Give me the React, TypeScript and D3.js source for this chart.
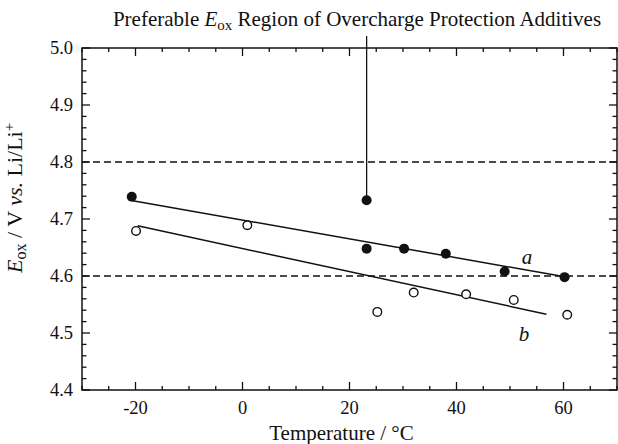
import React from "react";
import * as d3 from "d3";

const tempsA = [-20.7, 23.2, 23.2, 30.2, 38.0, 49.0, 60.2];
const valuesA = [4.739, 4.733, 4.648, 4.648, 4.639, 4.608, 4.598];
const tempsB = [-19.9, 0.9, 25.2, 32.0, 41.8, 50.7, 60.7];
const valuesB = [4.679, 4.689, 4.537, 4.571, 4.568, 4.558, 4.532];
const fitA = [[-20.5, 4.732], [60.0, 4.599]];
const fitB = [[-19.6, 4.688], [56.8, 4.533]];
const dashedLevels = [4.8, 4.6];
const xTicks = [-20, 0, 20, 40, 60];
const yTicks = [4.4, 4.5, 4.6, 4.7, 4.8, 4.9, 5.0];
const markerTemp = 23.2;
const markerValue = 4.733;

const W = 618, H = 444;
const L = 82, R = 617, T = 48, B = 390;
const FONT = "'Liberation Serif', 'Times New Roman', serif";

export default function App() {
  const x = d3.scaleLinear().domain([-30, 70]).range([L, R]);
  const y = d3.scaleLinear().domain([4.4, 5.0]).range([B, T]);
  const line = d3.line<number[]>().x(d => x(d[0])).y(d => y(d[1]));
  const xMinor = d3.range(-30, 70.01, 5);
  const yMinor = d3.range(4.4, 5.001, 0.02);
  const isMajorX = (v: number) => Math.abs(v % 20) < 1e-6;
  const isMajorY = (v: number) => Math.abs(Math.round(v * 10) - v * 10) < 1e-6;
  const stroke = "#111";
  return (
    <svg width={W} height={H} style={{ position: "fixed", left: 0, top: 0, background: "#fff" }} fontFamily={FONT}>
      {dashedLevels.map(v => (
        <line key={v} x1={L} x2={R} y1={y(v)} y2={y(v)} stroke={stroke} strokeWidth={1.3} strokeDasharray="7,4" />
      ))}
      <rect x={L} y={T} width={R - L} height={B - T} fill="none" stroke={stroke} strokeWidth={1.5} />
      {xMinor.map(v => {
        const len = isMajorX(v) ? 8 : 4;
        return (
          <g key={"x" + v}>
            <line x1={x(v)} x2={x(v)} y1={B} y2={B - len} stroke={stroke} strokeWidth={1.3} />
            <line x1={x(v)} x2={x(v)} y1={T} y2={T + len} stroke={stroke} strokeWidth={1.3} />
          </g>
        );
      })}
      {yMinor.map(v => {
        const len = isMajorY(v) ? 8 : 4.5;
        return (
          <g key={"y" + v}>
            <line x1={L} x2={L + len} y1={y(v)} y2={y(v)} stroke={stroke} strokeWidth={1.3} />
            <line x1={R} x2={R - len} y1={y(v)} y2={y(v)} stroke={stroke} strokeWidth={1.3} />
          </g>
        );
      })}
      {xTicks.map(v => (
        <text key={"xl" + v} x={x(v)} y={414} textAnchor="middle" fontSize={18.5} fill={stroke}>{v}</text>
      ))}
      {yTicks.map(v => (
        <text key={"yl" + v} x={73} y={y(v) + 6} textAnchor="end" fontSize={18.5} fill={stroke}>{v.toFixed(1)}</text>
      ))}
      <path d={line(fitA) || ""} fill="none" stroke={stroke} strokeWidth={1.5} />
      <path d={line(fitB) || ""} fill="none" stroke={stroke} strokeWidth={1.5} />
      <line x1={x(markerTemp)} x2={x(markerTemp)} y1={36} y2={y(markerValue)} stroke={stroke} strokeWidth={1.3} />
      {tempsB.map((t, i) => (
        <circle key={"b" + i} cx={x(t)} cy={y(valuesB[i])} r={4.3} fill="#fff" stroke={stroke} strokeWidth={1.4} />
      ))}
      {tempsA.map((t, i) => (
        <circle key={"a" + i} cx={x(t)} cy={y(valuesA[i])} r={5} fill={stroke} />
      ))}
      <text x={527} y={264} textAnchor="middle" fontSize={21} fontStyle="italic" fill={stroke}>a</text>
      <text x={524} y={341} textAnchor="middle" fontSize={21} fontStyle="italic" fill={stroke}>b</text>
      <text x={357} y={26} textAnchor="middle" fontSize={21} fill={stroke}>
        Preferable <tspan fontStyle="italic">E</tspan><tspan fontSize={15} dy={4}>ox</tspan><tspan dy={-4}> Region of Overcharge Protection Additives</tspan>
      </text>
      <text x={(L + R) / 2 - 8} y={440} textAnchor="middle" fontSize={21} fill={stroke}>Temperature / °C</text>
      <text transform={`translate(22,273) rotate(-90)`} textAnchor="start" fontSize={22} fill={stroke}>
        <tspan fontStyle="italic">E</tspan><tspan fontSize={16} dy={4}>ox</tspan><tspan dy={-4}> / V </tspan><tspan fontStyle="italic">vs.</tspan><tspan> Li/Li</tspan><tspan fontSize={15} dy={-8}>+</tspan>
      </text>
    </svg>
  );
}
